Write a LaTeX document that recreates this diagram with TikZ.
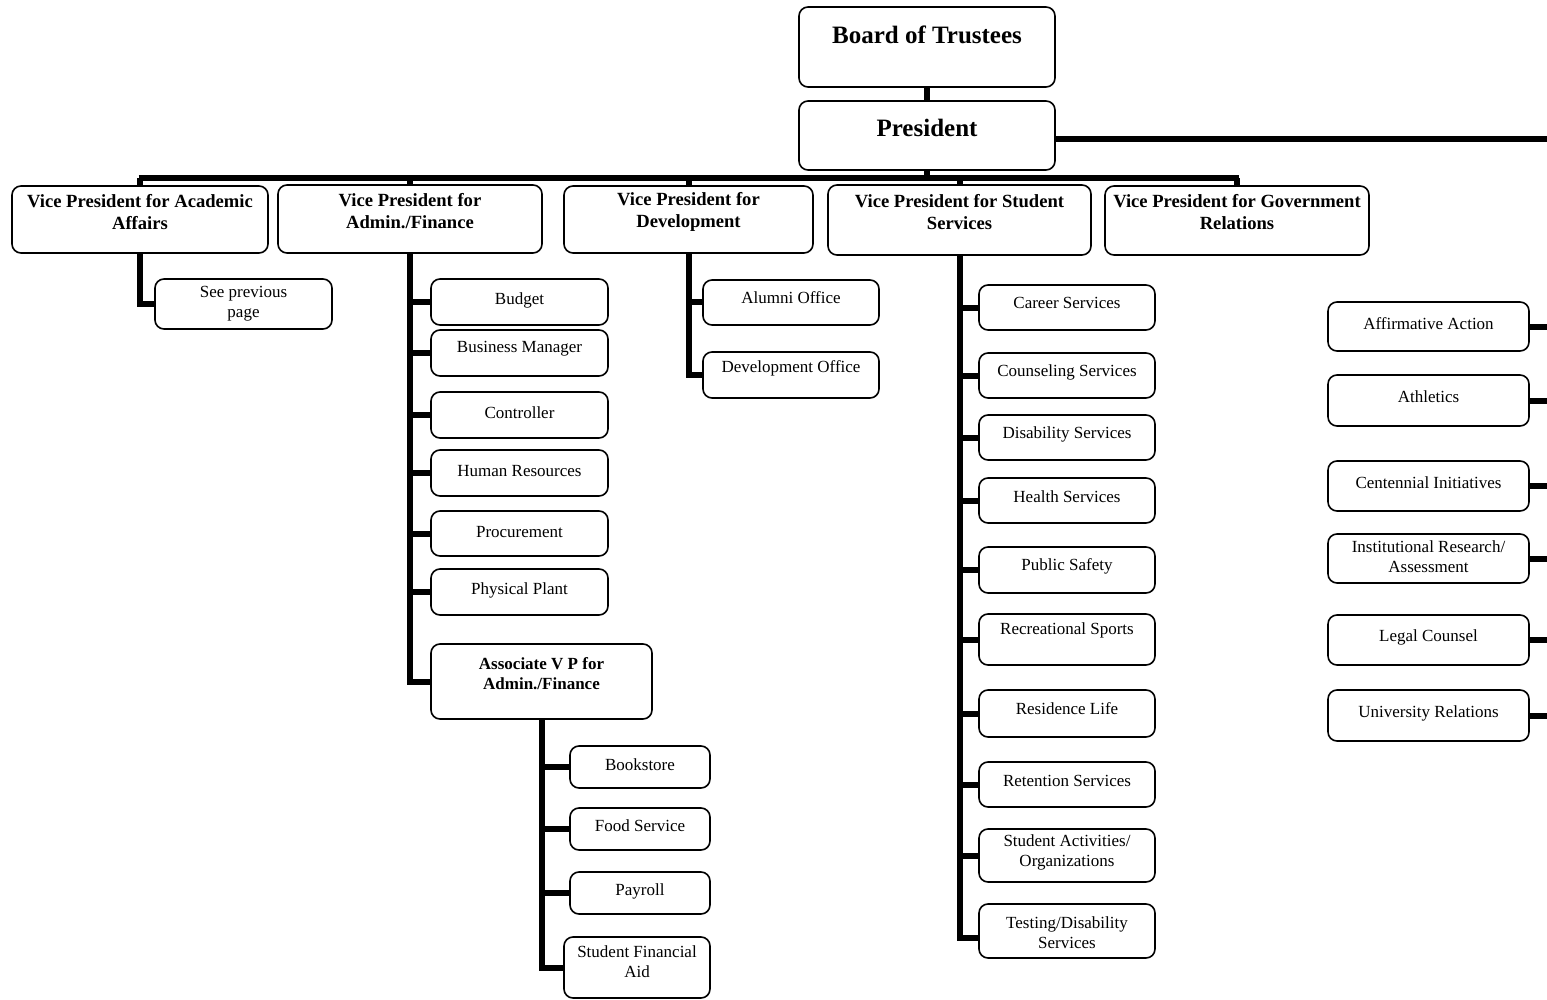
\documentclass[tikz,border=0pt]{standalone}
\usepackage{fontspec}
\setmainfont{Liberation Serif}
\usetikzlibrary{fit}
\tikzset{
  box/.style={draw, line width=0.8pt, rounded corners=4.5pt, inner sep=0pt, fill=white},
  conn/.style={line width=3pt},
  sm/.style={font=\fontsize{8.5}{10}\selectfont, align=center, inner sep=0pt},
  vp/.style={font=\fontsize{9.3}{11}\selectfont\bfseries, align=center, inner sep=0pt},
  avps/.style={font=\fontsize{8.5}{10}\selectfont\bfseries, align=center, inner sep=0pt},
  topt/.style={font=\fontsize{12.5}{14}\selectfont\bfseries, align=center, inner sep=0pt},
}
\newcommand\obox[8]{%
  \node[box, fit={(#2,#3) (#4,#5)}] (#1) {};
  \node[#7] (#1t) at ({(#2+#4)/2},#6) {#8};}
\begin{document}
\begin{tikzpicture}[x=0.5pt, y=-0.5pt]
\useasboundingbox (0,0) rectangle (1547,1000);
\coordinate (redge) at (1547,0);
\coordinate (bus) at (0,178);

% boxes
\obox{bot}{799}{7}{1055}{87}{35}{topt}{Board of Trustees}
\obox{pres}{799}{101}{1055}{170}{128}{topt}{President}
\obox{aca}{12}{186}{268}{253}{212}{vp}{Vice President for Academic\\Affairs}
\obox{adm}{278}{185}{542}{253}{211}{vp}{Vice President for\\Admin./Finance}
\obox{dev}{564}{186}{813}{253}{212}{vp}{Vice President for\\Development}
\obox{stu}{828}{185}{1091}{255}{212}{vp}{Vice President for Student\\Services}
\obox{gov}{1105}{186}{1369}{255}{212}{vp}{Vice President for Government\\Relations}

\obox{prev}{155}{279}{332}{329}{303.5}{sm}{See previous\\page}

\obox{budget}{431}{279}{608}{325}{300}{sm}{Budget}
\obox{busmgr}{431}{330}{608}{376}{349}{sm}{Business Manager}
\obox{ctrl}{431}{392}{608}{438}{413}{sm}{Controller}
\obox{hr}{431}{450}{608}{496}{471}{sm}{Human Resources}
\obox{proc}{431}{511}{608}{556}{532}{sm}{Procurement}
\obox{plant}{431}{569}{608}{615}{590}{sm}{Physical Plant}
\obox{avp}{431}{644}{652}{719}{674}{avps}{Associate V P for\\Admin./Finance}
\obox{book}{570}{746}{710}{788}{765}{sm}{Bookstore}
\obox{food}{570}{808}{710}{850}{826}{sm}{Food Service}
\obox{pay}{570}{872}{710}{914}{891}{sm}{Payroll}
\obox{sfa}{564}{937}{710}{998}{961.5}{sm}{Student Financial\\Aid}

\obox{alum}{703}{280}{879}{325}{298}{sm}{Alumni Office}
\obox{devo}{703}{352}{879}{398}{368}{sm}{Development Office}

\obox{career}{979}{285}{1155}{330}{303}{sm}{Career Services}
\obox{couns}{979}{353}{1155}{398}{372}{sm}{Counseling Services}
\obox{disab}{979}{415}{1155}{460}{434}{sm}{Disability Services}
\obox{health}{979}{478}{1155}{523}{497}{sm}{Health Services}
\obox{safety}{979}{547}{1155}{593}{566}{sm}{Public Safety}
\obox{rec}{979}{614}{1155}{665}{630}{sm}{Recreational Sports}
\obox{res}{979}{690}{1155}{737}{709}{sm}{Residence Life}
\obox{ret}{979}{762}{1155}{807}{781}{sm}{Retention Services}
\obox{act}{979}{829}{1155}{882}{852.5}{sm}{Student Activities/\\Organizations}
\obox{test}{979}{904}{1155}{958}{932.5}{sm}{Testing/Disability\\Services}

\obox{aa}{1328}{302}{1529}{351}{324}{sm}{Affirmative Action}
\obox{ath}{1328}{375}{1529}{426}{397}{sm}{Athletics}
\obox{cent}{1328}{461}{1529}{511}{483}{sm}{Centennial Initiatives}
\obox{inst}{1328}{534}{1529}{583}{557}{sm}{Institutional Research/\\Assessment}
\obox{legal}{1328}{615}{1529}{665}{637}{sm}{Legal Counsel}
\obox{ur}{1328}{690}{1529}{741}{713}{sm}{University Relations}

% connectors
\draw[conn] (bot.south) -- (pres.north);
\draw[conn] ([yshift=-1.75pt]pres.east) -- ([yshift=-1.75pt]pres.east -| redge);
\draw[conn] (pres.south) -- (pres.south |- bus);
\draw[conn] ([xshift=-0.75pt]aca.north |- bus) -- ([xshift=0.75pt]gov.north |- bus);
\foreach \v in {aca,adm,dev,stu,gov}
  \draw[conn] (\v.north) -- (\v.north |- bus);

\draw[conn] (aca.south) |- (prev.west);
\foreach \c in {budget,busmgr,ctrl,hr,proc,plant,avp}
  \draw[conn] (adm.south) |- (\c.west);
\foreach \c in {book,food,pay,sfa}
  \draw[conn] (avp.south) |- (\c.west);
\foreach \c in {alum,devo}
  \draw[conn] (dev.south) |- (\c.west);
\foreach \c in {career,couns,disab,health,safety,rec,res,ret,act}
  \draw[conn] (stu.south) |- (\c.west);
\draw[conn] (stu.south) |- ([yshift=-3.5pt]test.west);
\foreach \c in {aa,ath,cent,inst,legal,ur}
  \draw[conn] (\c.east) -- (\c.east -| redge);
\end{tikzpicture}
\end{document}
